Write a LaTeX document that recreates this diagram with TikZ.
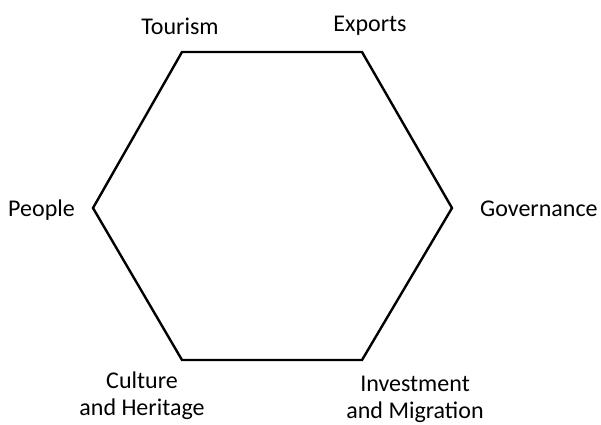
\documentclass[tikz,border=0pt]{standalone}
\usepackage{fontspec}
\setmainfont{Carlito}
\tikzset{
	side/.style={black, line width=2.4pt, line join=miter},
	lbl/.style={font=\fontsize{24}{27}\selectfont, inner sep=0pt, align=center}
}
\begin{document}
\begin{tikzpicture}[x=1pt, y=-1pt]
		\useasboundingbox (0,0) rectangle (601,424);
		\coordinate (tl) at (182,52);
		\coordinate (tr) at (362,52);
		\coordinate (r) at (452,208);
		\coordinate (br) at (362,360);
		\coordinate (bl) at (182,360);
		\coordinate (l) at (93,208);
		\draw[side] (tl) -- (tr) -- (r) -- (br) -- (bl) -- (l) -- cycle;
		\node[lbl, anchor=base] (tourism) at (180,34) {Tourism};
		\node[lbl, anchor=base] (exports) at (370,31) {Exports};
		\node[lbl, anchor=base east] (people) at (75,216) {People};
		\node[lbl, anchor=base west] (governance) at (480,216) {Governance};
		\node[lbl] (culture) at (142,396) {Culture\\and Heritage};
		\node[lbl] (investment) at (415,399) {Investment\\and Migration};
	\end{tikzpicture}
\end{document}
